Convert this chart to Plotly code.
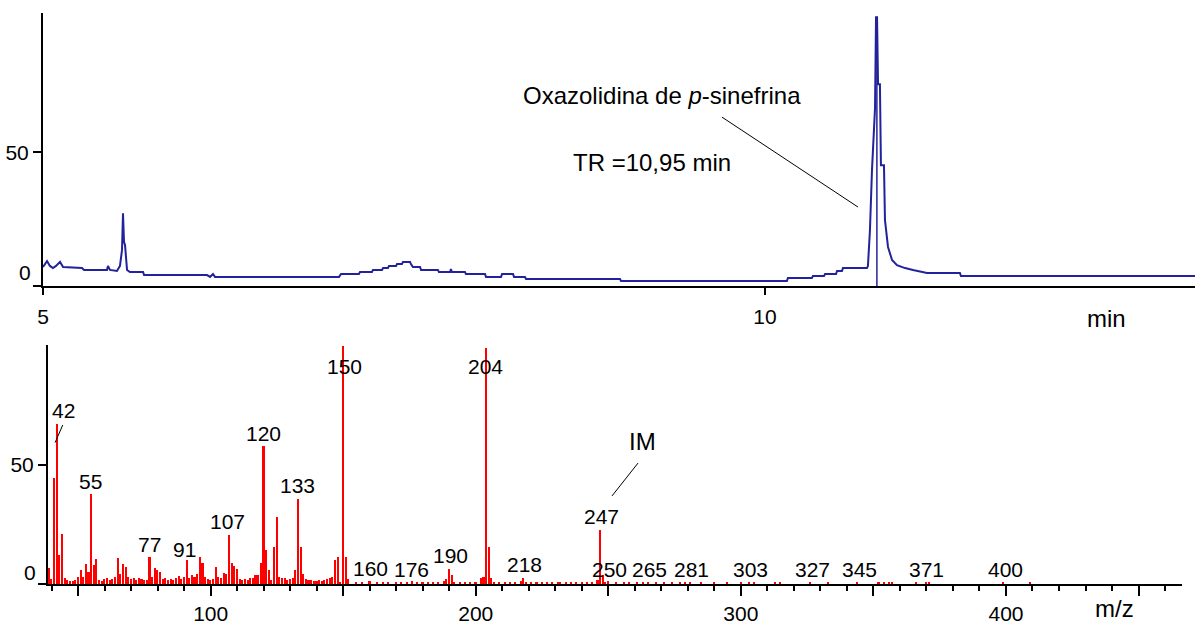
import plotly.graph_objects as go

# ---------------- Chromatogram (top) ----------------
chrom_time = [5.000, 5.028, 5.048, 5.069, 5.090, 5.118, 5.139, 5.270, 5.284, 5.443,
              5.450, 5.464, 5.512, 5.533, 5.547, 5.554, 5.561, 5.568, 5.582, 5.602,
              5.693, 5.700, 6.136, 6.157, 6.177, 6.191, 7.050, 7.064, 7.188, 7.195,
              7.278, 7.285, 7.348, 7.355, 7.389, 7.396, 7.445, 7.452, 7.486, 7.493,
              7.542, 7.548, 7.562, 7.611, 7.618, 7.735, 7.742, 7.819, 7.825, 7.832,
              7.922, 7.929, 8.061, 8.068, 8.172, 8.179, 8.255, 8.262, 8.338, 8.345,
              8.996, 9.003, 10.152, 10.159, 10.325, 10.332, 10.409, 10.416, 10.492, 10.499,
              10.533, 10.540, 10.706, 10.713, 10.727, 10.741, 10.762, 10.769, 10.776, 10.783,
              10.796, 10.803, 10.824, 10.831, 10.852, 10.880, 10.914, 10.970, 11.025, 11.122,
              11.350, 11.357, 12.978]
chrom_intensity = [7.1, 9.3, 7.5, 6.7, 7.5, 9.0, 7.1, 6.7, 6.0, 6.0,
                   7.5, 6.0, 5.6, 7.5, 13.4, 27.2, 16.4, 15.3, 6.0, 5.2,
                   5.2, 4.1, 4.1, 3.4, 4.5, 3.4, 3.4, 4.5, 4.5, 5.2,
                   5.2, 6.0, 6.0, 6.7, 6.7, 7.5, 7.5, 8.2, 8.2, 9.0,
                   9.0, 8.2, 7.1, 7.1, 6.0, 6.0, 5.2, 5.2, 6.3, 5.2,
                   5.2, 4.5, 4.5, 3.4, 3.4, 4.5, 4.5, 3.4, 3.4, 2.6,
                   2.6, 1.9, 1.9, 3.0, 3.0, 3.7, 3.7, 4.5, 4.5, 5.6,
                   5.6, 6.7, 6.7, 7.5, 20.9, 43.3, 66.4, 100.4, 100.4, 75.4,
                   75.4, 45.1, 45.1, 24.6, 14.6, 9.7, 7.8, 6.7, 6.0, 4.9,
                   4.9, 3.7, 3.7]
rt_marker_time = [10.775, 10.775]
rt_marker_intensity = [0, 100.4]
top_xticks = [5, 10]

# ---------------- Mass spectrum (bottom) ----------------
ms_mz = [39, 40, 41, 42, 43, 44, 45, 46, 47, 48,
         49, 50, 51, 52, 53, 54, 55, 56, 57, 58,
         59, 60, 61, 62, 63, 64, 65, 66, 67, 68,
         69, 70, 71, 72, 73, 74, 75, 76, 77, 78,
         79, 80, 81, 82, 83, 84, 85, 86, 87, 88,
         89, 90, 91, 92, 93, 94, 95, 96, 97, 98,
         99, 100, 101, 102, 103, 104, 105, 106, 107, 108,
         109, 110, 111, 112, 113, 114, 115, 116, 117, 118,
         119, 120, 121, 122, 123, 124, 125, 126, 127, 128,
         129, 130, 131, 132, 133, 134, 135, 136, 137, 138,
         139, 140, 141, 142, 143, 144, 145, 146, 147, 148,
         149, 150, 151, 152]
ms_intensity = [6.7, 2.0, 44.5, 67.2, 12.0, 21.0, 2.5, 1.5, 1.2, 1.2,
                1.5, 3.0, 6.0, 3.0, 8.5, 5.0, 37.8, 8.0, 10.5, 1.5,
                1.2, 2.0, 2.5, 1.5, 2.0, 3.0, 11.0, 4.0, 8.4, 7.0,
                3.0, 2.0, 2.5, 1.5, 2.5, 2.0, 1.5, 1.5, 11.5, 3.0,
                6.7, 6.0, 5.0, 2.0, 2.5, 1.5, 2.0, 1.5, 2.5, 3.5,
                2.0, 3.0, 10.0, 2.5, 3.8, 3.0, 4.0, 11.4, 8.7, 3.0,
                2.0, 1.5, 2.0, 7.3, 3.0, 2.5, 4.7, 4.0, 20.6, 9.0,
                7.5, 6.5, 2.0, 1.5, 2.0, 1.5, 2.5, 2.5, 3.8, 3.8,
                8.7, 58.0, 14.3, 5.9, 1.5, 15.7, 28.3, 3.0, 2.4, 2.5,
                1.5, 2.0, 2.5, 5.9, 35.8, 15.7, 4.2, 2.0, 1.5, 1.5,
                1.2, 1.2, 1.5, 1.2, 1.5, 2.0, 2.5, 3.0, 10.0, 11.3,
                0.5, 100.0, 11.5, 2.0]
ms_mz_high = [155, 157, 160, 163, 165, 167, 170, 172, 174, 176,
              178, 180, 182, 184, 186, 188, 189, 190, 191, 192,
              194, 196, 198, 200, 202, 203, 204, 205, 206, 207,
              209, 211, 213, 215, 217, 218, 219, 221, 223, 225,
              227, 229, 231, 232, 234, 236, 238, 240, 242, 244,
              246, 247, 248, 249, 250, 253, 256, 258, 261, 263,
              265, 268, 271, 274, 277, 279, 281, 285, 290, 295,
              300, 303, 305, 313, 315, 326, 333, 344, 352, 354,
              356, 357, 366, 370, 371, 399, 409]
ms_intensity_high = [1.0, 0.8, 1.2, 1.0, 0.8, 1.0, 0.8, 1.0, 0.8, 1.3,
                     1.0, 0.8, 1.0, 0.8, 1.0, 1.2, 2.0, 6.2, 3.8, 1.0,
                     0.8, 1.0, 0.8, 1.0, 2.4, 3.0, 99.0, 15.7, 2.5, 1.0,
                     0.8, 1.0, 0.8, 1.0, 1.2, 2.4, 1.0, 0.8, 1.0, 0.8,
                     1.0, 0.8, 1.0, 0.8, 1.0, 0.8, 1.0, 0.8, 1.0, 1.0,
                     1.5, 22.7, 3.8, 1.0, 1.2, 0.8, 1.0, 0.8, 0.8, 1.0,
                     1.0, 0.8, 0.8, 1.0, 0.8, 1.0, 1.0, 0.8, 0.8, 1.0,
                     0.8, 1.0, 0.8, 0.8, 0.8, 0.8, 0.8, 0.8, 0.8, 0.8,
                     1.0, 1.0, 0.8, 0.8, 1.0, 0.8, 0.8]

peak_labels = ["42", "55", "77", "91", "107", "120", "133", "150", "160", "176",
               "190", "204", "218", "247", "250", "265", "281", "303", "327", "345",
               "371", "400"]
# label anchor positions (layout)
peak_label_x = [44.3, 54.5, 77.1, 90.3, 106.5, 120.1, 132.9, 150.3, 160.1, 175.9,
                190.6, 203.8, 218.2, 247.6, 250.6, 265.7, 281.2, 303.8, 327.2, 344.9,
                370.2, 400.0]
peak_label_y = [72.7, 42.9, 16.4, 14.7, 26.1, 63.4, 41.2, 91.2, 6.7, 5.9,
                11.8, 91.2, 8.0, 28.2, 5.9, 5.9, 5.9, 5.9, 5.9, 5.9,
                5.9, 5.9]

bottom_major = [50, 100, 150, 200, 250, 300, 350, 400, 450]
bottom_major_text = ["", "100", "", "200", "", "300", "", "400", ""]

W, H = 1195, 636
BLUE = "#22229c"
RED = "#ff0000"
FONT = "Liberation Sans, Arial, sans-serif"
NUM = 21
WORD = 24

fig = go.Figure()
fig.add_trace(go.Scatter(x=chrom_time, y=chrom_intensity, mode="lines",
                         line=dict(color=BLUE, width=2), xaxis="x", yaxis="y",
                         showlegend=False, hoverinfo="skip"))
fig.add_trace(go.Scatter(x=rt_marker_time, y=rt_marker_intensity, mode="lines",
                         line=dict(color=BLUE, width=1.5), xaxis="x", yaxis="y",
                         showlegend=False, hoverinfo="skip"))
fig.add_trace(go.Bar(x=ms_mz + ms_mz_high, y=ms_intensity + ms_intensity_high,
                     width=0.6, marker=dict(color=RED, line=dict(width=0)),
                     xaxis="x2", yaxis="y2", showlegend=False, hoverinfo="skip"))

axis_common = dict(showline=True, linecolor="black", linewidth=2, showgrid=False,
                   zeroline=False, ticks="outside", tickcolor="black", tickwidth=1.5,
                   automargin=False,
                   tickfont=dict(family=FONT, size=NUM, color="black"), fixedrange=True)

fig.update_layout(
    width=W, height=H, margin=dict(l=0, r=0, t=0, b=0, autoexpand=False),
    paper_bgcolor="white", plot_bgcolor="white", bargap=0,
    xaxis=dict(domain=[43 / W, 1.0], range=[5.0, 12.978], anchor="y",
               tickvals=top_xticks, ticklen=7, ticklabelstandoff=4, **axis_common),
    yaxis=dict(domain=[(H - 286) / H, (H - 13) / H], range=[0, 102], anchor="x",
               tickvals=[0, 50], ticktext=["", "50"], ticklen=8, **axis_common),
    xaxis2=dict(domain=[48 / W, 1182 / W], range=[38.63, 466.4], anchor="y2",
                tickvals=bottom_major, ticktext=bottom_major_text, ticklen=10,
                minor=dict(dtick=10, tick0=0, ticklen=5, ticks="outside",
                           tickcolor="black", tickwidth=1.5),
                **axis_common),
    yaxis2=dict(domain=[(H - 584) / H, (H - 345) / H], range=[0, 100.4], anchor="x2",
                tickvals=[0, 50], ticktext=["", "50"], ticklen=8, **axis_common),
)

ann = []
# raised "0" tick labels
ann.append(dict(text="0", xref="x domain", yref="y", x=0, y=0, xanchor="right",
                yanchor="middle", xshift=-10, yshift=14, showarrow=False,
                font=dict(family=FONT, size=NUM, color="black")))
ann.append(dict(text="0", xref="x2 domain", yref="y2", x=0, y=0, xanchor="right",
                yanchor="middle", xshift=-10, yshift=12, showarrow=False,
                font=dict(family=FONT, size=NUM, color="black")))
# axis units
ann.append(dict(text="min", xref="paper", yref="paper", x=1128 / W, y=(H - 318) / H,
                showarrow=False, font=dict(family=FONT, size=WORD, color="black")))
ann.append(dict(text="m/z", xref="paper", yref="paper", x=1136 / W, y=(H - 624) / H,
                showarrow=False, font=dict(family=FONT, size=WORD, color="black")))
# top annotations
ann.append(dict(text="Oxazolidina de <i>p</i>-sinefrina", xref="x", yref="y",
                x=9.287, y=71.3, showarrow=False,
                font=dict(family=FONT, size=WORD, color="black")))
ann.append(dict(text="TR =10,95 min", xref="x", yref="y", x=9.217, y=46.3,
                showarrow=False, font=dict(family=FONT, size=WORD, color="black")))
# peak labels
for t, lx, ly in zip(peak_labels, peak_label_x, peak_label_y):
    ann.append(dict(text=t, xref="x2", yref="y2", x=lx, y=ly, showarrow=False,
                    font=dict(family=FONT, size=NUM, color="black")))
ann.append(dict(text="IM", xref="x2", yref="y2", x=262.7, y=59.7, showarrow=False,
                font=dict(family=FONT, size=WORD, color="black")))
fig.update_layout(annotations=ann)

shapes = [
    dict(type="line", xref="x", yref="y", x0=9.702, y0=63.1, x1=10.644, y1=29.5,
         line=dict(color="black", width=1)),
    dict(type="line", xref="x2", yref="y2", x0=41.3, y0=59.4, x1=44.2, y1=66.8,
         line=dict(color="black", width=1)),
    dict(type="line", xref="x2", yref="y2", x0=261.2, y0=50.8, x1=251.4, y1=37.0,
         line=dict(color="black", width=1)),
]
fig.update_layout(shapes=shapes)

fig.write_html("out.html", config={"displayModeBar": False},
               post_script="document.body.style.margin='0px';document.body.style.overflow='hidden';")
